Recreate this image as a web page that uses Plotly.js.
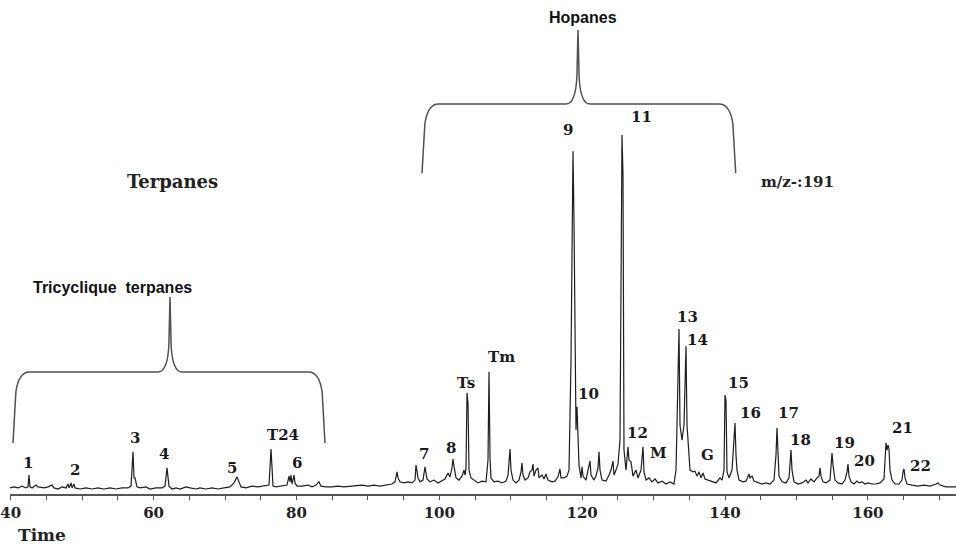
<!DOCTYPE html>
<html>
<head>
<meta charset="utf-8">
<script src="https://cdn.plot.ly/plotly-3.0.1.min.js"></script>
<style>html,body{margin:0;padding:0;background:#fff;}#chart{width:956px;height:544px;}</style>
</head>
<body>
<div id="chart"></div>
<script>
// ---- Data (m/z 191) ----
const retentionTime = [
39.9,40.46,41.02,41.58,42.14,42.42,42.56,42.7,42.98,43.54,43.82,44.66,45.22,45.78,46.06,46.62,47.18,47.74,48.02,48.16,
48.44,48.58,48.86,49.0,49.7,50.54,51.38,52.22,53.06,53.9,54.74,55.58,56.42,56.84,57.12,57.26,57.4,57.68,58.1,58.94,
59.5,60.34,61.18,61.6,61.88,62.02,62.16,62.58,63.14,63.7,64.54,65.1,65.94,66.5,67.34,68.18,69.02,69.86,70.7,71.26,
71.68,71.96,72.24,72.94,73.78,74.62,75.46,76.16,76.44,76.58,76.72,77.14,77.98,78.68,78.96,79.1,79.24,79.38,79.66,79.8,
80.08,80.78,81.62,82.18,82.74,83.16,83.44,84.14,84.98,85.82,86.66,87.5,88.34,89.18,90.02,90.86,91.7,92.54,93.38,93.8,
94.08,94.22,94.5,95.06,95.62,96.18,96.6,96.74,96.88,97.02,97.3,97.72,98.0,98.14,98.28,98.7,99.26,99.82,100.38,100.8,
101.22,101.5,101.78,101.92,102.06,102.34,102.76,103.18,103.46,103.6,103.74,103.88,104.02,104.16,104.44,104.86,105.42,105.98,106.54,106.82,
106.96,107.1,107.24,107.66,108.22,108.78,109.34,109.62,109.76,109.9,110.04,110.32,110.74,111.16,111.44,111.58,111.72,112.0,112.42,112.7,
112.98,113.12,113.26,113.54,113.82,113.96,114.38,114.66,114.94,115.22,115.78,116.2,116.62,116.9,117.04,117.46,117.88,118.16,118.44,118.72,
118.86,119.0,119.14,119.28,119.42,119.56,119.84,119.98,120.12,120.54,120.82,121.1,121.24,121.66,121.94,122.22,122.36,122.5,122.78,123.34,
123.76,124.04,124.32,124.46,124.74,125.02,125.3,125.44,125.58,125.72,125.86,126.14,126.42,126.56,126.84,127.12,127.54,127.82,128.24,128.52,
128.66,128.94,129.36,129.78,130.2,130.62,131.18,131.74,132.3,132.86,133.14,133.28,133.42,133.56,133.7,133.98,134.26,134.4,134.54,134.68,
134.82,135.1,135.52,135.8,136.08,136.36,136.64,136.92,137.2,137.62,138.18,138.74,139.3,139.58,139.86,140.0,140.14,140.28,140.56,140.98,
141.12,141.4,141.54,141.68,141.96,142.52,142.94,143.36,143.5,143.78,144.06,144.62,145.18,145.74,146.3,146.86,147.0,147.14,147.28,147.42,
147.56,147.98,148.54,148.96,149.24,149.38,149.66,150.22,150.78,151.34,151.62,152.04,152.46,152.88,153.16,153.3,153.44,153.72,154.14,154.7,
154.84,154.98,155.12,155.4,155.82,156.38,156.8,157.08,157.22,157.36,157.64,158.06,158.48,158.76,159.18,159.6,160.02,160.58,161.14,161.7,
162.26,162.4,162.54,162.68,162.82,162.96,163.1,163.38,163.8,164.36,164.78,164.92,165.06,165.2,165.48,166.18,167.02,167.86,168.7,169.54,
169.82,170.1,170.94,171.78,172.34
];
const abundance = [
1.7,2.0,1.7,2.2,1.7,2.0,5.3,2.0,1.7,2.5,2.0,1.7,2.0,2.5,1.7,1.4,2.0,1.7,2.8,1.7,
3.1,1.7,2.8,1.7,1.4,1.7,1.4,1.7,1.4,1.7,1.4,1.7,1.7,2.2,11.8,4.5,4.5,2.0,1.7,2.0,
1.4,1.7,1.7,2.2,7.3,3.9,2.2,1.4,1.7,1.4,2.0,1.7,1.4,1.7,1.4,1.7,1.4,1.7,2.0,3.1,
4.8,3.4,2.0,1.7,2.2,2.0,2.2,2.5,12.6,5.0,2.2,2.0,2.2,2.5,5.0,3.4,5.3,2.8,5.3,3.1,
2.2,2.2,2.5,2.0,2.5,3.4,2.2,2.0,2.0,2.2,2.0,2.2,2.2,2.5,2.2,2.5,2.2,2.5,2.8,3.4,
6.2,4.5,3.4,3.1,3.4,3.1,3.9,8.1,6.7,4.5,3.4,3.9,7.6,6.2,4.2,3.4,3.9,3.1,3.6,4.2,
5.9,4.8,7.3,9.8,7.8,4.5,3.9,5.0,6.7,5.3,7.3,28.3,25.5,6.7,4.5,3.9,3.1,3.6,3.4,9.5,
34.2,10.1,4.5,3.4,3.6,3.1,3.6,5.3,8.1,12.6,6.7,3.9,3.1,3.9,6.2,8.7,5.3,3.9,4.5,6.2,
6.7,8.4,5.0,6.7,7.3,4.5,5.3,4.2,5.6,3.9,3.4,3.6,4.8,7.0,4.5,4.5,5.0,6.7,37.0,96.0,
76.7,37.0,17.9,24.4,17.1,8.1,4.5,7.6,5.0,3.9,6.7,9.2,5.3,3.9,5.0,7.3,11.8,6.7,3.9,3.6,
5.3,6.7,9.2,5.3,6.7,8.4,15.1,68.3,100.5,89.3,12.3,6.7,13.2,9.5,9.0,5.0,6.7,4.5,6.7,13.2,
6.2,3.9,4.5,3.4,4.2,3.1,3.6,2.8,3.4,2.8,6.7,19.3,30.0,46.2,19.3,15.1,19.3,31.9,41.4,19.3,
15.1,6.7,6.2,6.4,5.0,6.2,4.5,5.9,4.2,3.9,3.4,3.1,4.5,3.9,6.7,27.7,26.3,6.2,4.5,6.7,
10.9,19.9,10.9,6.7,3.9,3.4,3.6,5.6,4.5,5.0,3.6,3.1,2.8,3.1,2.8,3.9,6.7,10.9,18.5,10.9,
5.0,3.4,3.1,4.5,12.3,6.7,3.4,2.8,3.1,3.9,3.1,4.2,3.4,4.5,5.0,7.3,5.0,3.4,3.1,3.9,
6.7,11.5,8.1,3.9,3.1,2.8,3.9,6.2,8.4,5.0,3.4,2.8,3.6,3.1,3.4,2.8,3.1,2.8,2.8,3.1,
4.2,9.5,14.3,12.3,13.7,12.6,6.7,3.9,2.8,2.8,3.9,6.2,7.0,4.5,2.8,2.5,2.2,2.5,2.2,2.8,
3.1,2.5,2.0,2.0,2.0
];

// Peak identifications (label, apex time, apex abundance)
const peakNames   = ["1","2","3","4","5","T24","6","7","8","Ts","Tm","9","10","11","12","M","13","14","G","15","16","17","18","19","20","21","22"];
const peakTimes   = [42.56,48.44,57.12,61.88,71.68,76.44,79.24,96.74,101.92,103.88,106.96,118.72,119.28,125.58,128.52,130.2,133.56,134.54,136.36,140.0,141.4,147.28,149.24,154.98,157.22,162.54,165.06];
const peakHeights = [5.3,3.1,11.8,7.3,4.8,12.6,5.3,8.1,9.8,28.3,34.2,96.0,24.4,100.5,13.2,4.2,46.2,41.4,6.2,27.7,19.9,18.5,12.3,11.5,8.4,14.3,7.0];

// Axis ticks
const tickValues = [40,60,80,100,120,140,160];
const tickLabels = ["40","60","80","100","120","140","160"];

// Bracketed compound groups: [start, centre, end] times
const groupNames = ["Tricyclique  terpanes","Hopanes"];
const groupSpans = [[40.32,62.3,84.0],[97.58,119.42,141.5]];

// ---- Styling (label offsets in pixels) ----
const labelDX = [-1,4,2,-3,-5,12,6,8,-2,-1,12,-5,11,19,-6,3,8,11,8,13,15,11,9,12,16,16,16];
const labelDY = [12,13,14,14,9,14,12,11,11,10,15,21,13,18,14,26,12,6,17,12,10,15,10,10,3,15,3];
const braceLevels = [[14.28,34.16,55.16],[89.88,109.2,129.92]]; // end, bar, tip (abundance units)

function bracePath(span, lv){
  const x0=span[0], xm=span[1], x1=span[2];
  const yE=lv[0], yB=lv[1], yT=lv[2];
  const f = v => v.toFixed(3);
  return 'M'+f(x0)+','+f(yE)+
    ' L'+f(x0+0.4)+','+f(yB-5.6)+
    ' Q'+f(x0+0.8)+','+f(yB)+' '+f(x0+2.3)+','+f(yB)+
    ' L'+f(xm-1.7)+','+f(yB)+
    ' Q'+f(xm-0.3)+','+f(yB)+' '+f(xm-0.15)+','+f(yB+8)+
    ' L'+f(xm)+','+f(yT)+
    ' L'+f(xm+0.15)+','+f(yB+8)+
    ' Q'+f(xm+0.3)+','+f(yB)+' '+f(xm+1.7)+','+f(yB)+
    ' L'+f(x1-2.3)+','+f(yB)+
    ' Q'+f(x1-0.8)+','+f(yB)+' '+f(x1-0.4)+','+f(yB-5.6)+
    ' L'+f(x1)+','+f(yE);
}

const serif = 'DejaVu Serif, Liberation Serif, serif';
const sans  = 'Liberation Sans, Arial, sans-serif';

const annotations = [];
peakNames.forEach((n,i)=>{
  annotations.push({x:peakTimes[i], y:peakHeights[i], xref:'x', yref:'y', text:'<b>'+n+'</b>',
    showarrow:false, xanchor:'center', yanchor:'middle', xshift:labelDX[i], yshift:labelDY[i],
    font:{family:serif, size:15, color:'#1a1a1a'}});
});
// group titles
annotations.push({x:groupSpans[0][1]-8.0, y:57.7, xref:'x', yref:'y', text:'<b>'+groupNames[0]+'</b>', showarrow:false,
  xanchor:'center', yanchor:'middle', font:{family:sans, size:16, color:'#111'}});
annotations.push({x:groupSpans[1][1]+0.7, y:133.3, xref:'x', yref:'y', text:'<b>'+groupNames[1]+'</b>', showarrow:false,
  xanchor:'center', yanchor:'middle', font:{family:sans, size:16, color:'#111'}});
annotations.push({x:62.6, y:87.4, xref:'x', yref:'y', text:'<b>Terpanes</b>', showarrow:false,
  xanchor:'center', yanchor:'middle', font:{family:serif, size:18, color:'#222'}});
annotations.push({x:150.1, y:87.4, xref:'x', yref:'y', text:'<b>m/z-:191</b>', showarrow:false,
  xanchor:'center', yanchor:'middle', font:{family:serif, size:15, color:'#222'}});
annotations.push({x:0.034, y:-0.083, xref:'paper', yref:'paper', text:'<b>Time</b>', showarrow:false,
  xanchor:'center', yanchor:'middle', font:{family:serif, size:17, color:'#222'}});

const shapes = groupSpans.map((s,i)=>({type:'path', xref:'x', yref:'y', path:bracePath(s, braceLevels[i]),
  line:{color:'#505050', width:1.5}}));

const trace = {x:retentionTime, y:abundance, type:'scatter', mode:'lines',
  line:{color:'#1e1e1e', width:1.2}, hoverinfo:'skip'};

const layout = {
  width:956, height:544,
  margin:{l:10, r:0, t:0, b:50},
  paper_bgcolor:'#ffffff', plot_bgcolor:'#ffffff',
  showlegend:false,
  xaxis:{range:[39.9,172.34], showgrid:false, zeroline:false, showline:true, linecolor:'#555', linewidth:2,
    ticks:'outside', ticklen:4, tickwidth:1, tickcolor:'#555',
    tickmode:'array', tickvals:tickValues, ticktext:tickLabels,
    tickfont:{family:serif, size:15, color:'#222', weight:'bold'},
    minor:{tick0:0, dtick:5, ticks:'outside', ticklen:4, tickcolor:'#555', showgrid:false},
    fixedrange:true},
  yaxis:{range:[0,138.32], visible:false, showgrid:false, zeroline:false, fixedrange:true},
  annotations:annotations,
  shapes:shapes
};

Plotly.newPlot('chart',[trace],layout,{staticPlot:true, displayModeBar:false});
</script>
</body>
</html>
